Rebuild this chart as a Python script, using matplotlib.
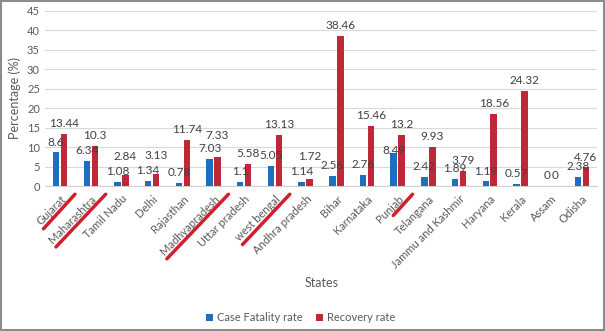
import numpy as np
import matplotlib.pyplot as plt
import matplotlib.transforms as mtransforms
from matplotlib.patches import Rectangle
from matplotlib.lines import Line2D

states = ['Gujarat', 'Maharashtra', 'Tamil Nadu', 'Delhi', 'Rajasthan',
          'Madhyapradesh', 'Uttar pradesh', 'west bengal', 'Andhra pradesh',
          'Bihar', 'Karnataka', 'Punjab', 'Telangana', 'Jammu and Kashmir',
          'Haryana', 'Kerala', 'Assam', 'Odisha']
cfr = [8.6, 6.34, 1.08, 1.34, 0.78, 7.03, 1.1, 5.05, 1.14,
       2.56, 2.76, 8.49, 2.42, 1.89, 1.19, 0.57, 0, 2.38]
recovery = [13.44, 10.3, 2.84, 3.13, 11.74, 7.33, 5.58, 13.13, 1.72,
            38.46, 15.46, 13.2, 9.93, 3.79, 18.56, 24.32, 0, 4.76]
# labels struck through by hand in the source
marked = ['Gujarat', 'Maharashtra', 'Madhyapradesh', 'west bengal', 'Punjab']

blue = '#1F6FBF'
red = '#C0283A'
txt = '#404040'
plt.rcParams['font.family'] = ['Lato', 'DejaVu Sans']

fig = plt.figure(figsize=(6.05, 3.31), dpi=100)
ax = fig.add_axes([0.074, 0.438, 0.913, 0.530])

x = np.arange(len(states))
w = 0.21
off = 0.13
b1 = ax.bar(x - off, cfr, w, color=blue, label='Case Fatality rate', zorder=3)
b2 = ax.bar(x + off, recovery, w, color=red, label='Recovery rate', zorder=3)

# a few labels were dragged by hand in the original (extra points up/down)
nudge = {('r', 'Madhyapradesh'): 8, ('r', 'Andhra pradesh'): 9, ('b', 'Punjab'): -6,
         ('r', 'Tamil Nadu'): 6, ('r', 'Delhi'): 6}
for key, bars, vals in [('b', b1, cfr), ('r', b2, recovery)]:
    for st, r, v in zip(states, bars, vals):
        dy = 3.5 + nudge.get((key, st), 0)
        ax.annotate('{:g}'.format(v), (r.get_x() + r.get_width() / 2, v),
                    xytext=(0, dy), textcoords='offset points',
                    ha='center', va='bottom', fontsize=8.5, color=txt, zorder=4)

ax.set_xlim(-0.5, len(states) - 0.5)
ax.set_ylim(0, 45)
ax.set_yticks(np.arange(0, 46, 5))
ax.yaxis.grid(True, color='#D9D9D9', lw=0.8, zorder=0)
ax.set_xticks(x)
ax.set_xticklabels(states, rotation=45, ha='right', va='center',
                   rotation_mode='anchor', fontsize=8, color='#595959')
ax.tick_params(axis='both', length=0, labelsize=8, colors='#595959')
ax.tick_params(axis='x', pad=8)
shift = mtransforms.ScaledTranslation(4 / 100, 0, fig.dpi_scale_trans)
for lab in ax.get_xticklabels():
    lab.set_transform(lab.get_transform() + shift)
for s in ['top', 'right', 'left']:
    ax.spines[s].set_visible(False)
ax.spines['bottom'].set_color('#D0D0D0')
ax.set_ylabel('Percentage (%)', fontsize=9, color='#595959', labelpad=4)

fig.text(0.531, 0.145, 'States', ha='center', va='center', fontsize=9, color='#595959')
fig.legend(handles=[b1, b2], loc='center', bbox_to_anchor=(0.497, 0.04), ncol=2,
           frameon=False, fontsize=8, handlelength=0.6, handleheight=0.6,
           columnspacing=1.2, handletextpad=0.4, labelcolor='#595959')

fig.patches.append(Rectangle((0.001, 0.002), 0.997, 0.995, transform=fig.transFigure,
                             fill=False, edgecolor='#8C8C8C', lw=1.5))

# red hand strokes under some labels
fig.canvas.draw()
for lab in ax.get_xticklabels():
    if lab.get_text() in marked:
        bb = lab.get_window_extent()
        x0, y0, x1, y1 = bb.x0 + 9, bb.y0 - 2, bb.x1 + 7, bb.y1 - 1
        if lab.get_text() == 'Punjab':
            x0, y0 = x0 + 0.35 * (x1 - x0), y0 + 0.35 * (y1 - y0)
        fig.add_artist(Line2D([x0, x1], [y0, y1], transform=None,
                              color='#D0202C', lw=2.5, solid_capstyle='round'))

fig.savefig('out.png', dpi=100)
